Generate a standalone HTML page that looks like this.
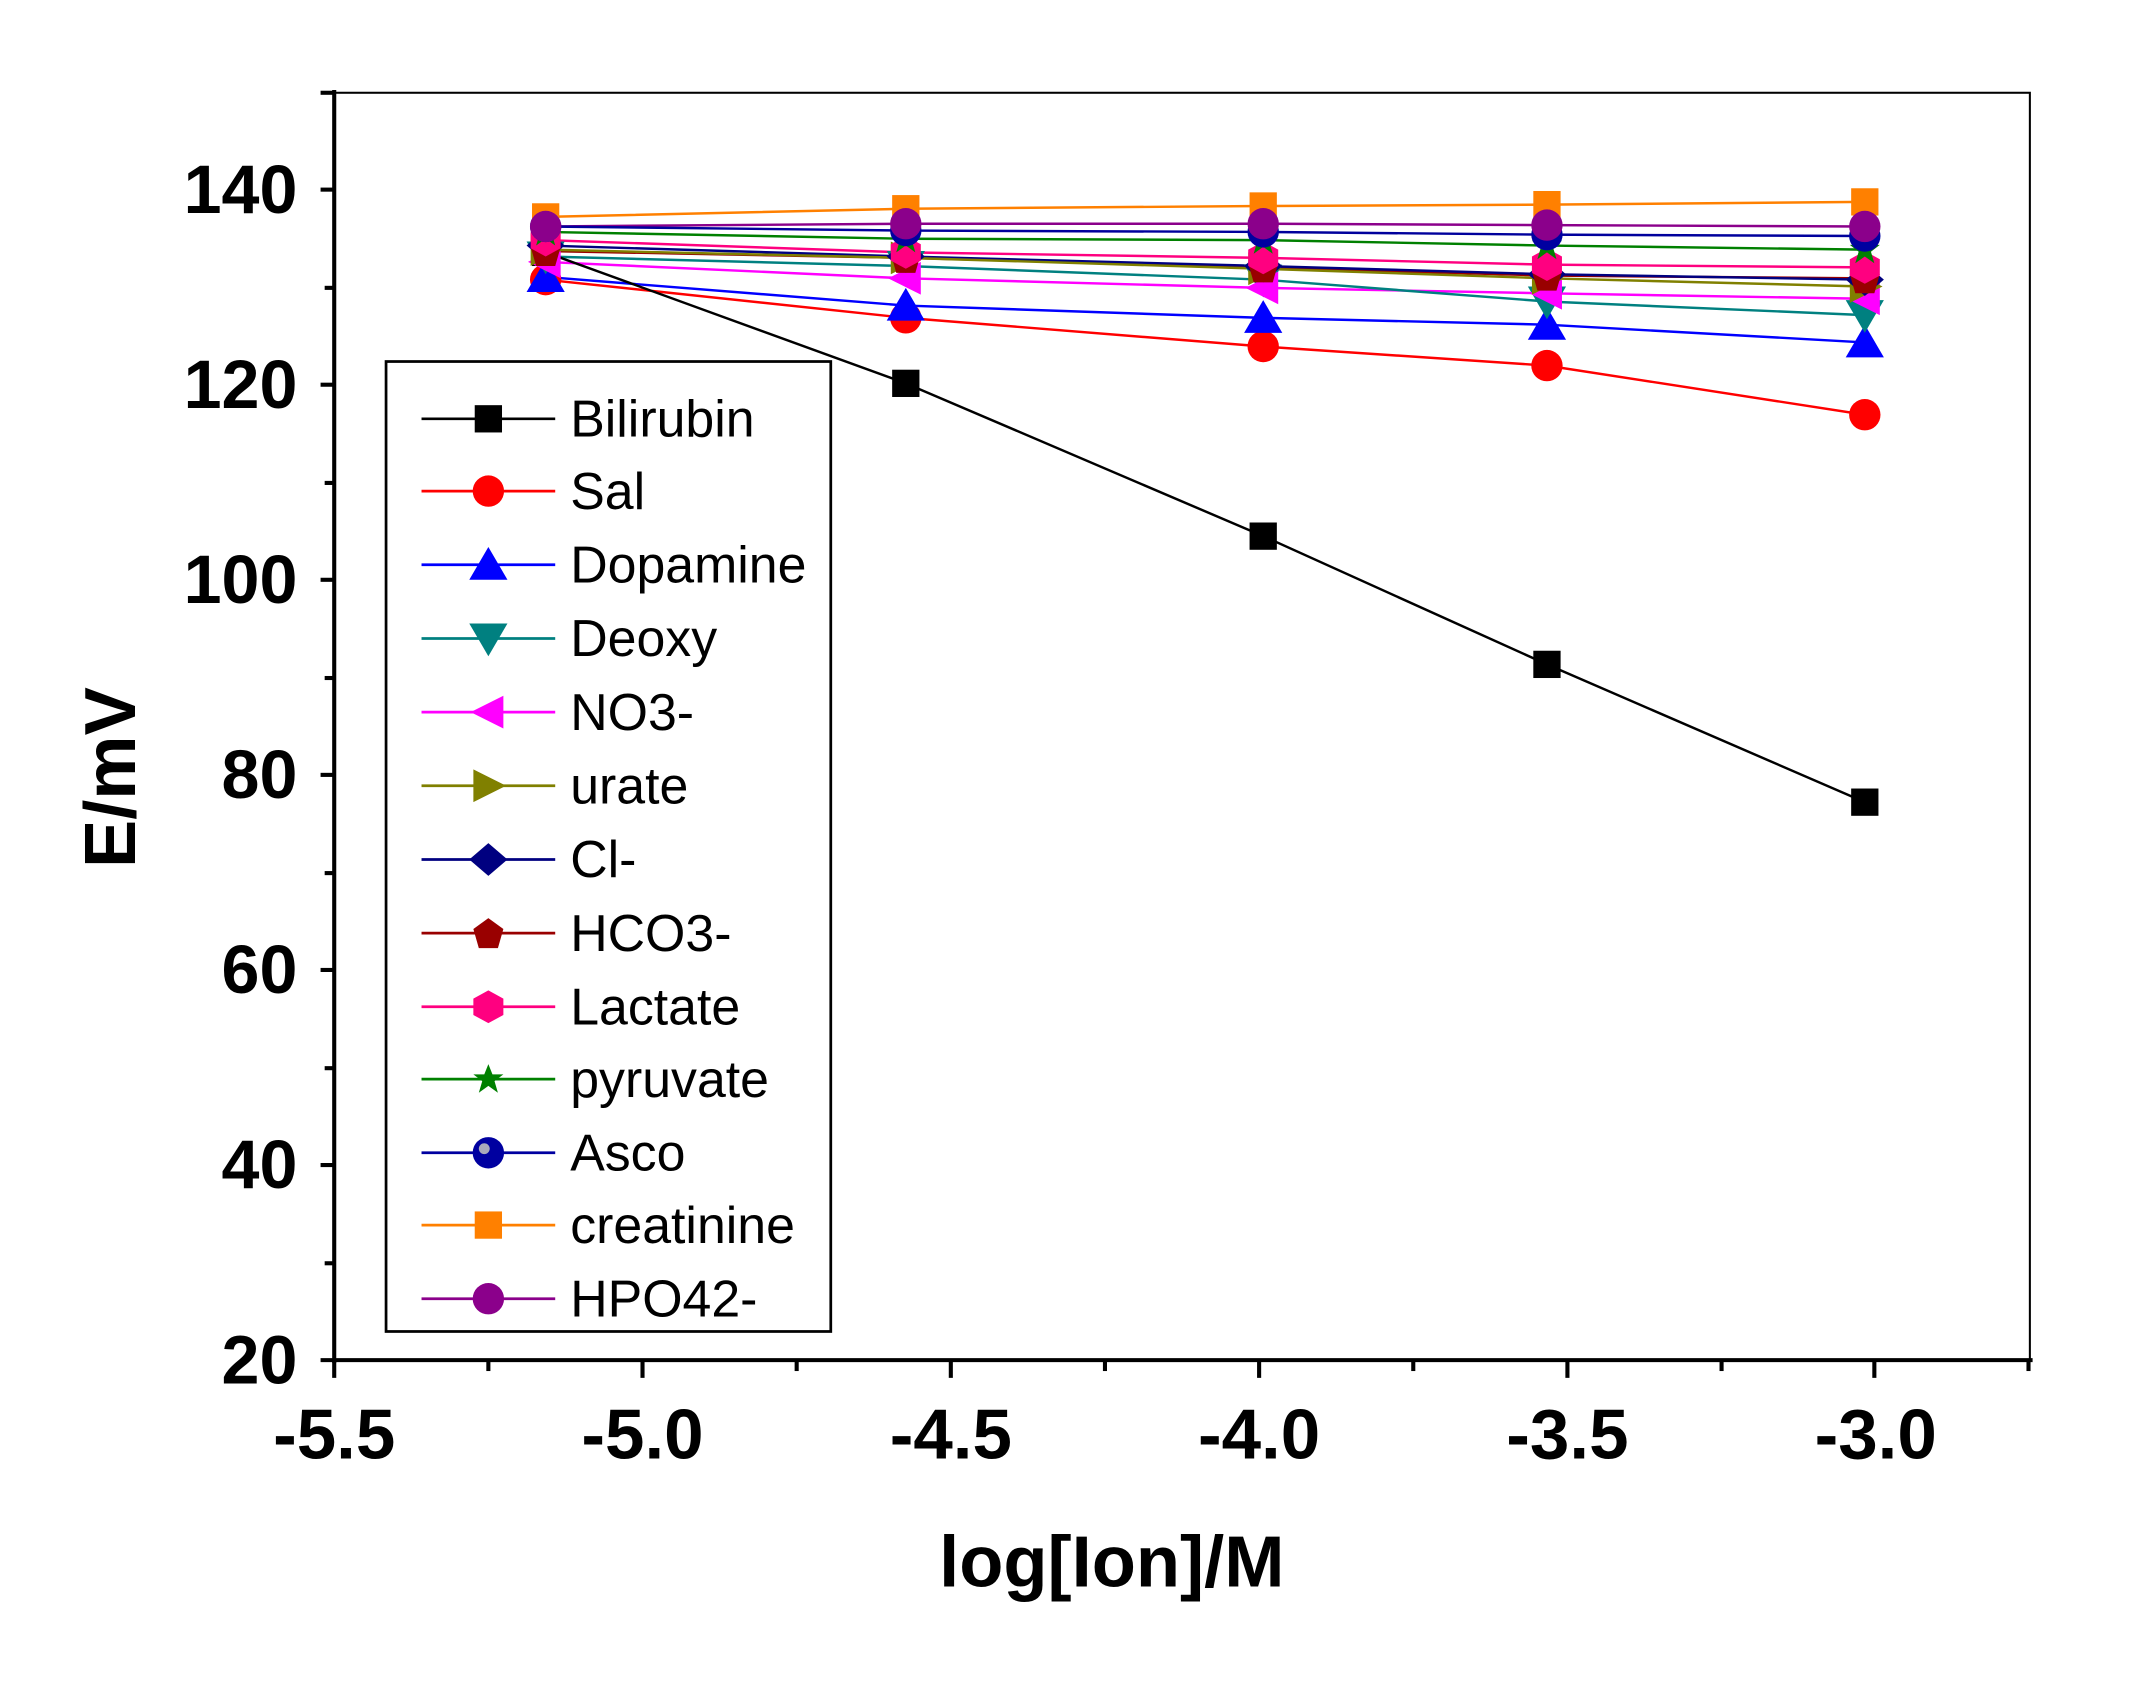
<!DOCTYPE html>
<html><head><meta charset="utf-8"><style>
html,body{margin:0;padding:0;background:#fff;}
svg{display:block;}
text{font-family:"Liberation Sans",Arial,sans-serif;}
</style></head><body>
<svg width="2139" height="1687" viewBox="0 0 1568 1236.6" preserveAspectRatio="none" xmlns="http://www.w3.org/2000/svg">
<defs>
<g id="sq"><rect x="-10" y="-10" width="20" height="20"/></g>
<g id="ci"><circle r="11.5"/></g>
<g id="tu"><polygon points="0,-13 14,11 -14,11"/></g>
<g id="td"><polygon points="0,13 14,-11 -14,-11"/></g>
<g id="tl"><polygon points="-13,0 11,-12 11,12"/></g>
<g id="tr"><polygon points="13,0 -11,-12 -11,12"/></g>
<g id="di"><polygon points="0,-12 14,0 0,12 -14,0"/></g>
<g id="pe"><polygon points="0,-11 11,-3 7,11 -7,11 -11,-3"/></g>
<g id="hx"><polygon points="-11,-6 0,-12 11,-6 11,6 0,12 -11,6"/></g>
<g id="st"><polygon points="0,-11 3,-3.5 11,-3.5 4.5,1.5 7,10 0,5 -7,10 -4.5,1.5 -11,-3.5 -3,-3.5"/></g>
</defs>
<rect width="1568" height="1237" fill="#fff"/>
<!-- frame -->
<rect x="245" y="68" width="1243" height="929" fill="none" stroke="#000" stroke-width="1.5"/>
<line x1="245" y1="66" x2="245" y2="999" stroke="#000" stroke-width="3"/>
<line x1="235" y1="997" x2="1490" y2="997" stroke="#000" stroke-width="3"/>
<g stroke="#000" stroke-width="3">
<line x1="235" y1="68" x2="245" y2="68"/>
<line x1="235" y1="139" x2="245" y2="139"/><line x1="238" y1="211" x2="245" y2="211"/>
<line x1="235" y1="282" x2="245" y2="282"/><line x1="238" y1="354" x2="245" y2="354"/>
<line x1="235" y1="425" x2="245" y2="425"/><line x1="238" y1="497" x2="245" y2="497"/>
<line x1="235" y1="568" x2="245" y2="568"/><line x1="238" y1="640" x2="245" y2="640"/>
<line x1="235" y1="711" x2="245" y2="711"/><line x1="238" y1="783" x2="245" y2="783"/>
<line x1="235" y1="854" x2="245" y2="854"/><line x1="238" y1="926" x2="245" y2="926"/>
<line x1="245" y1="997" x2="245" y2="1010"/><line x1="358" y1="997" x2="358" y2="1005"/>
<line x1="471" y1="997" x2="471" y2="1010"/><line x1="584" y1="997" x2="584" y2="1005"/>
<line x1="697" y1="997" x2="697" y2="1010"/><line x1="810" y1="997" x2="810" y2="1005"/>
<line x1="923" y1="997" x2="923" y2="1010"/><line x1="1036" y1="997" x2="1036" y2="1005"/>
<line x1="1149" y1="997" x2="1149" y2="1010"/><line x1="1262" y1="997" x2="1262" y2="1005"/>
<line x1="1374" y1="997" x2="1374" y2="1010"/><line x1="1487" y1="997" x2="1487" y2="1005"/>
</g>
<g font-weight="bold" font-size="50" text-anchor="end">
<text x="218" y="156">140</text><text x="218" y="299">120</text><text x="218" y="442">100</text>
<text x="218" y="585">80</text><text x="218" y="728">60</text><text x="218" y="871">40</text><text x="218" y="1014">20</text>
</g>
<g font-weight="bold" font-size="52" text-anchor="middle">
<text x="245" y="1069">-5.5</text><text x="471" y="1069">-5.0</text><text x="697" y="1069">-4.5</text>
<text x="923" y="1069">-4.0</text><text x="1149" y="1069">-3.5</text><text x="1375" y="1069">-3.0</text>
<text x="815" y="1163" font-size="53">log[Ion]/M</text>
<text transform="translate(99,570) rotate(-90)" font-size="53">E/mV</text>
</g>
<!-- series -->
<g fill="none" stroke-width="1.8">
<polyline stroke="#ff8000" points="400,159 664,153 926,151 1134,150 1367,148"/>
<polyline stroke="#8b008b" points="400,166 664,164 926,164 1134,165 1367,166"/>
<polyline stroke="#00009c" points="400,166 664,169 926,170 1134,172 1367,173"/>
<polyline stroke="#008000" points="400,170 664,175 926,176 1134,180 1367,183"/>
<polyline stroke="#ff0080" points="400,176 664,185 926,189 1134,194 1367,196"/>
<polyline stroke="#990000" points="400,184 664,189 926,196 1134,202 1367,204"/>
<polyline stroke="#000080" points="400,180 664,188 926,195 1134,201 1367,205"/>
<polyline stroke="#808000" points="400,183 664,189 926,197 1134,204 1367,210"/>
<polyline stroke="#ff00ff" points="400,192 664,204 926,211 1134,215 1367,219"/>
<polyline stroke="#008080" points="400,188 664,195 926,205 1134,221 1367,231"/>
<polyline stroke="#0000ff" points="400,203 664,224 926,233 1134,238 1367,251"/>
<polyline stroke="#ff0000" points="400,205 664,233 926,254 1134,268 1367,304"/>
<polyline stroke="#000" points="400,185 664,281 926,393 1134,487 1367,588"/>
</g>
<g>
<g fill="#000"><use href="#sq" x="400" y="185"/><use href="#sq" x="664" y="281"/><use href="#sq" x="926" y="393"/><use href="#sq" x="1134" y="487"/><use href="#sq" x="1367" y="588"/></g>
<g fill="#ff0000"><use href="#ci" x="400" y="205"/><use href="#ci" x="664" y="233"/><use href="#ci" x="926" y="254"/><use href="#ci" x="1134" y="268"/><use href="#ci" x="1367" y="304"/></g>
<g fill="#0000ff"><use href="#tu" x="400" y="203"/><use href="#tu" x="664" y="224"/><use href="#tu" x="926" y="233"/><use href="#tu" x="1134" y="238"/><use href="#tu" x="1367" y="251"/></g>
<g fill="#008080"><use href="#td" x="400" y="188"/><use href="#td" x="664" y="195"/><use href="#td" x="926" y="205"/><use href="#td" x="1134" y="221"/><use href="#td" x="1367" y="231"/></g>
<g fill="#ff00ff"><use href="#tl" x="400" y="192"/><use href="#tl" x="664" y="204"/><use href="#tl" x="926" y="211"/><use href="#tl" x="1134" y="215"/><use href="#tl" x="1367" y="219"/></g>
<g fill="#808000"><use href="#tr" x="400" y="183"/><use href="#tr" x="664" y="189"/><use href="#tr" x="926" y="197"/><use href="#tr" x="1134" y="204"/><use href="#tr" x="1367" y="210"/></g>
<g fill="#000080"><use href="#di" x="400" y="180"/><use href="#di" x="664" y="188"/><use href="#di" x="926" y="195"/><use href="#di" x="1134" y="201"/><use href="#di" x="1367" y="205"/></g>
<g fill="#990000"><use href="#pe" x="400" y="184"/><use href="#pe" x="664" y="189"/><use href="#pe" x="926" y="196"/><use href="#pe" x="1134" y="202"/><use href="#pe" x="1367" y="204"/></g>
<g fill="#ff0080"><use href="#hx" x="400" y="176"/><use href="#hx" x="664" y="185"/><use href="#hx" x="926" y="189"/><use href="#hx" x="1134" y="194"/><use href="#hx" x="1367" y="196"/></g>
<g fill="#008000"><use href="#st" x="400" y="170"/><use href="#st" x="664" y="175"/><use href="#st" x="926" y="176"/><use href="#st" x="1134" y="180"/><use href="#st" x="1367" y="183"/></g>
<g fill="#0000a0"><use href="#ci" x="400" y="166"/><use href="#ci" x="664" y="169"/><use href="#ci" x="926" y="170"/><use href="#ci" x="1134" y="172"/><use href="#ci" x="1367" y="173"/></g>
<g fill="#ff8000"><use href="#sq" x="400" y="159"/><use href="#sq" x="664" y="153"/><use href="#sq" x="926" y="151"/><use href="#sq" x="1134" y="150"/><use href="#sq" x="1367" y="148"/></g>
<g fill="#8b008b"><use href="#ci" x="400" y="166"/><use href="#ci" x="664" y="164"/><use href="#ci" x="926" y="164"/><use href="#ci" x="1134" y="165"/><use href="#ci" x="1367" y="166"/></g>
</g>
<!-- legend -->
<rect x="283" y="265" width="326" height="711" fill="#fff" stroke="#000" stroke-width="2"/>
<g stroke-width="2">
<line x1="309" x2="407" y1="307" y2="307" stroke="#000"/>
<line x1="309" x2="407" y1="360" y2="360" stroke="#ff0000"/>
<line x1="309" x2="407" y1="414" y2="414" stroke="#0000ff"/>
<line x1="309" x2="407" y1="468" y2="468" stroke="#008080"/>
<line x1="309" x2="407" y1="522" y2="522" stroke="#ff00ff"/>
<line x1="309" x2="407" y1="576" y2="576" stroke="#808000"/>
<line x1="309" x2="407" y1="630" y2="630" stroke="#000080"/>
<line x1="309" x2="407" y1="684" y2="684" stroke="#990000"/>
<line x1="309" x2="407" y1="738" y2="738" stroke="#ff0080"/>
<line x1="309" x2="407" y1="791" y2="791" stroke="#008000"/>
<line x1="309" x2="407" y1="845" y2="845" stroke="#0000a0"/>
<line x1="309" x2="407" y1="898" y2="898" stroke="#ff8000"/>
<line x1="309" x2="407" y1="952" y2="952" stroke="#8b008b"/>
</g>
<use href="#sq" x="358" y="307" fill="#000"/>
<use href="#ci" x="358" y="360" fill="#ff0000"/>
<use href="#tu" x="358" y="414" fill="#0000ff"/>
<use href="#td" x="358" y="468" fill="#008080"/>
<use href="#tl" x="358" y="522" fill="#ff00ff"/>
<use href="#tr" x="358" y="576" fill="#808000"/>
<use href="#di" x="358" y="630" fill="#000080"/>
<use href="#pe" x="358" y="684" fill="#990000"/>
<use href="#hx" x="358" y="738" fill="#ff0080"/>
<use href="#st" x="358" y="791" fill="#008000"/>
<use href="#ci" x="358" y="845" fill="#0000a0"/>
<circle cx="355" cy="842" r="4" fill="#aab"/>
<use href="#sq" x="358" y="898" fill="#ff8000"/>
<use href="#ci" x="358" y="952" fill="#8b008b"/>
<g font-size="38" fill="#000">
<text x="418" y="320">Bilirubin</text><text x="418" y="373">Sal</text><text x="418" y="427">Dopamine</text>
<text x="418" y="481">Deoxy</text><text x="418" y="535">NO3-</text><text x="418" y="589">urate</text>
<text x="418" y="643">Cl-</text><text x="418" y="697">HCO3-</text><text x="418" y="751">Lactate</text>
<text x="418" y="804">pyruvate</text><text x="418" y="858">Asco</text><text x="418" y="911">creatinine</text>
<text x="418" y="965">HPO42-</text>
</g>
</svg>
</body></html>
